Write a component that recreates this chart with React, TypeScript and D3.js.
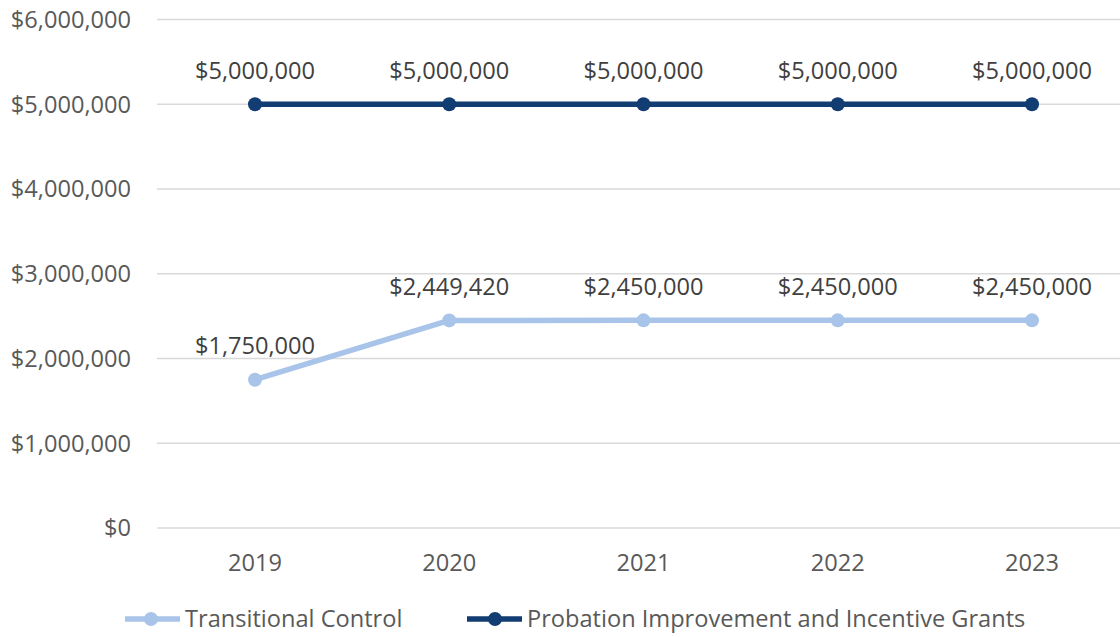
import React from "react";
import * as d3 from "d3";

const years = ["2019", "2020", "2021", "2022", "2023"];
const transitional = [1750000, 2449420, 2450000, 2450000, 2450000];
const probation = [5000000, 5000000, 5000000, 5000000, 5000000];
const yTicks = [0, 1000000, 2000000, 3000000, 4000000, 5000000, 6000000];
const seriesNames = ["Transitional Control", "Probation Improvement and Incentive Grants"];
const colors = ["#a9c4e9", "#123d72"];

const W = 1120, H = 637;
const FONT = "'Open Sans', sans-serif";
const FS = 23.6;

export default function App() {
  const x = d3.scalePoint<string>().domain(years).range([255, 1032]);
  const y = d3.scaleLinear().domain([0, 6000000]).range([528, 19.5]);
  const fmt = (v: number) => "$" + d3.format(",")(v);
  const line = d3.line<number>().x((_, i) => x(years[i])!).y((d) => y(d));
  const series = [transitional, probation];

  return (
    <svg width={W} height={H} style={{ position: "absolute", left: 0, top: 0, background: "#fff" }} fontFamily={FONT}>
      {yTicks.map((t) => (
        <g key={t}>
          <line x1={157} x2={W} y1={y(t)} y2={y(t)} stroke="#d9d9d9" strokeWidth={1.5} />
          <text x={131} y={y(t)} dy="0.35em" textAnchor="end" fontSize={FS} fill="#595959">{fmt(t)}</text>
        </g>
      ))}
      {years.map((yr) => (
        <text key={yr} x={x(yr)} y={563} dy="0.35em" textAnchor="middle" fontSize={FS} fill="#595959">{yr}</text>
      ))}
      {series.map((s, si) => (
        <g key={si}>
          <path d={line(s)!} fill="none" stroke={colors[si]} strokeWidth={5.5} strokeLinejoin="round" strokeLinecap="round" />
          {s.map((v, i) => (
            <circle key={i} cx={x(years[i])} cy={y(v)} r={7} fill={colors[si]} />
          ))}
          {s.map((v, i) => (
            <text key={"l" + i} x={x(years[i])} y={y(v) - 34} dy="0.35em" textAnchor="middle" fontSize={FS} fill="#404040">{fmt(v)}</text>
          ))}
        </g>
      ))}
      <g>
        <line x1={125} x2={180} y1={619} y2={619} stroke={colors[0]} strokeWidth={5.5} />
        <circle cx={151} cy={619} r={7} fill={colors[0]} />
        <text x={185} y={619} dy="0.35em" fontSize={FS} fill="#595959">{seriesNames[0]}</text>
        <line x1={467} x2={522} y1={619} y2={619} stroke={colors[1]} strokeWidth={5.5} />
        <circle cx={495} cy={619} r={7} fill={colors[1]} />
        <text x={527} y={619} dy="0.35em" fontSize={FS} fill="#595959">{seriesNames[1]}</text>
      </g>
    </svg>
  );
}
